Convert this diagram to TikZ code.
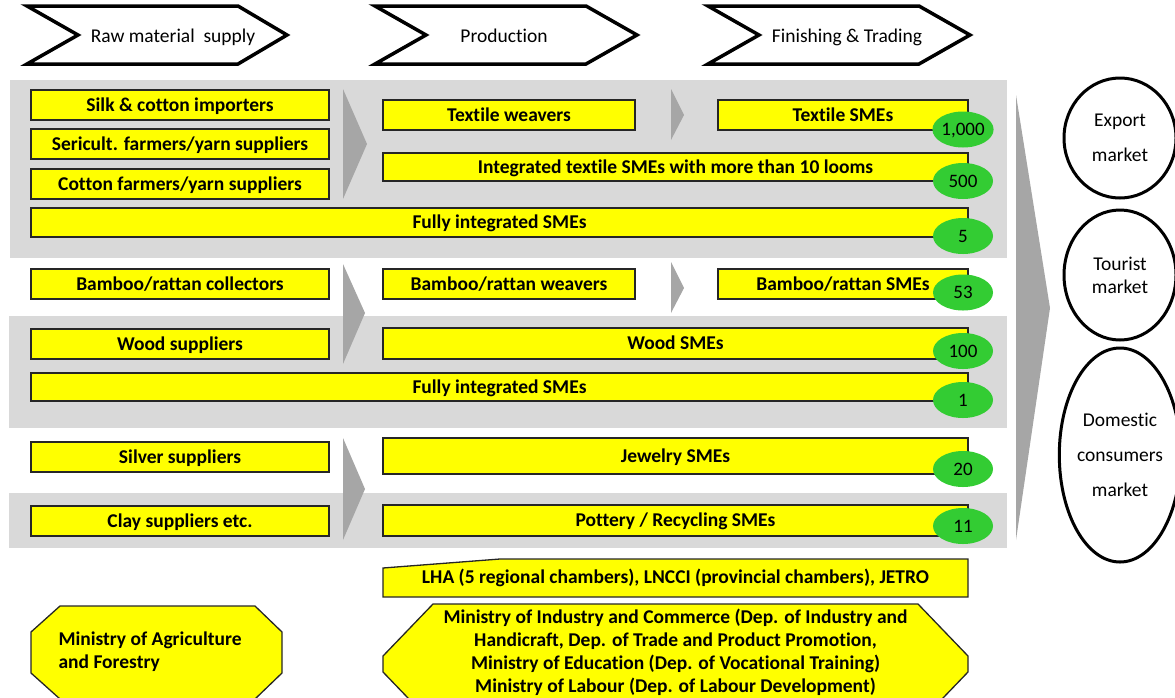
\documentclass[tikz,border=0pt]{standalone}
\usepackage{fontspec}
\setmainfont{Carlito}[Ligatures=NoCommon]
\usetikzlibrary{shapes.geometric}
\definecolor{panelgray}{HTML}{D9D9D9}
\definecolor{arrowgray}{HTML}{A6A6A6}
\definecolor{boxyellow}{HTML}{FFFF00}
\definecolor{countgreen}{HTML}{33CC33}

\tikzset{
  panel/.style={fill=panelgray, draw=none},
  flow/.style={fill=arrowgray, draw=none},
  ybox/.style={draw=black!85, line width=1.3pt, fill=boxyellow, inner sep=0pt,
    font=\bfseries\fontsize{19.5}{23}\selectfont, text height=12.5pt, text depth=0pt},
  count/.style={ellipse, fill=countgreen, minimum width=60, minimum height=36,
    inner sep=0pt, font=\fontsize{19}{22}\selectfont, text height=12pt, text depth=0pt},
  market/.style={ellipse, draw=black, line width=3pt, fill=white, minimum width=112,
    inner sep=0pt, align=center, font=\fontsize{19.5}{23}\selectfont},
  stage/.style={draw=black, line width=3.5pt, fill=white, line join=miter},
  stagetext/.style={font=\fontsize{19.5}{23}\selectfont, text height=12.5pt, text depth=0pt},
  agency/.style={draw=black!85, line width=1.3pt, fill=boxyellow},
  agencytext/.style={font=\bfseries\fontsize{19.5}{23}\selectfont, align=center},
}

\begin{document}
\begin{tikzpicture}[x=1pt,y=-1pt]
\useasboundingbox (0,0) rectangle (1175,697);
\clip (0,0) rectangle (1175,697);

% value chain stages
\draw[stage] (27,6) -- (238,6) -- (287,35) -- (238,64) -- (27,64) -- (78,35) -- cycle;
\draw[stage] (375,6) -- (586,6) -- (637,35) -- (586,64) -- (375,64) -- (426,35) -- cycle;
\draw[stage] (708,6) -- (919,6) -- (970,35) -- (919,64) -- (708,64) -- (759,35) -- cycle;
\node[stagetext] (raw)  at (173,36) {Raw material~ supply};
\node[stagetext] (prod) at (504,36) {Production};
\node[stagetext] (fin)  at (847,36) {Finishing \& Trading};

% sector bands
\fill[panel] (10,80) rectangle (1007,258);
\fill[panel] (9,316) rectangle (1007,428);
\fill[panel] (9,493) rectangle (1007,548);

% flow arrows
\fill[flow] (343,89) -- (367,144) -- (343,199) -- cycle;
\fill[flow] (671,89) -- (684,115) -- (671,140) -- cycle;
\fill[flow] (343,264) -- (365,313) -- (343,364) -- cycle;
\fill[flow] (671,262) -- (684,288) -- (671,313) -- cycle;
\fill[flow] (343,438) -- (365,489) -- (343,540) -- cycle;
\fill[flow] (1016,95) -- (1050,308) -- (1016,540) -- cycle;

% textiles
\node[ybox, minimum width=298, minimum height=30] (silk)   at (180,105) {Silk \& cotton importers};
\node[ybox, minimum width=298, minimum height=30] (seri)   at (180,144) {Sericult. farmers/yarn suppliers};
\node[ybox, minimum width=298, minimum height=30] (cotton) at (180,184) {Cotton farmers/yarn suppliers};
\node[ybox, minimum width=252, minimum height=30] (weav)   at (509,115) {Textile weavers};
\node[ybox, minimum width=250, minimum height=30] (tsme)   at (843,115) {Textile SMEs};
\node[ybox, minimum width=585, minimum height=28] (integ)  at (675.5,167) {Integrated textile SMEs with more than 10 looms};
\node[ybox, minimum width=937, minimum height=29] (fullt)  at (499.5,222.5) {Fully integrated SMEs};

% bamboo, rattan and wood
\node[ybox, minimum width=298, minimum height=30] (bcol)   at (180,284) {Bamboo/rattan collectors};
\node[ybox, minimum width=252, minimum height=30] (bwea)   at (509,284) {Bamboo/rattan weavers};
\node[ybox, minimum width=250, minimum height=30] (bsme)   at (843,284) {Bamboo/rattan SMEs};
\node[ybox, minimum width=298, minimum height=30] (wsup)   at (180,344) {Wood suppliers};
\node[ybox, minimum width=585, minimum height=31] (wsme)   at (675.5,343.5) {Wood SMEs};
\node[ybox, minimum width=937, minimum height=28] (fullw)  at (499.5,387) {Fully integrated SMEs};

% silver and clay
\node[ybox, minimum width=298, minimum height=30] (silv)   at (180,457) {Silver suppliers};
\node[ybox, minimum width=585, minimum height=36] (jew)    at (675.5,456) {Jewelry SMEs};
\node[ybox, minimum width=298, minimum height=30] (clay)   at (180,521) {Clay suppliers etc.};
\node[ybox, minimum width=585, minimum height=31] (pot)    at (675.5,520.5) {Pottery / Recycling SMEs};

% number of enterprises
\node[count] (n1) at (963,129.5) {1,000};
\node[count] (n2) at (963,181) {500};
\node[count] (n3) at (963,236) {5};
\node[count] (n4) at (963,292.5) {53};
\node[count] (n5) at (963,351) {100};
\node[count] (n6) at (963,400) {1};
\node[count] (n7) at (963,469) {20};
\node[count] (n8) at (963,526) {11};

% markets
\node[market, minimum height=120] (export)   at (1120,138) {Export\\[12pt]market};
\node[market, minimum height=130] (tourist)  at (1120,275) {Tourist\\market};
\node[market, minimum height=214] (domestic) at (1120,455) {Domestic\\[12pt]consumers\\[12pt]market};

% supporting organisations
\filldraw[agency] (383,568) -- (500,559) -- (968,559) -- (968,597) -- (383,597) -- cycle;
\node[agencytext] (lha) at (675.5,578) {LHA (5 regional chambers), LNCCI (provincial chambers), JETRO};
\filldraw[agency] (433,604) -- (918,604) -- (968,656) -- (968,672) -- (918,724)
  -- (433,724) -- (383,672) -- (383,656) -- cycle;
\node[agencytext] (mic) at (675.5,652) {Ministry of Industry and Commerce (Dep. of Industry and\\
  Handicraft, Dep. of Trade and Product Promotion,\\
  Ministry of Education (Dep. of Vocational Training)\\
  Ministry of Labour (Dep. of Labour Development)};
\filldraw[agency] (60,606) -- (255,606) -- (282,632) -- (282,673) -- (255,699)
  -- (60,699) -- (31,673) -- (31,632) -- cycle;
\node[agencytext, align=left, anchor=west] (maf) at (55,651.5) {Ministry of Agriculture\\and Forestry};
\end{tikzpicture}
\end{document}
